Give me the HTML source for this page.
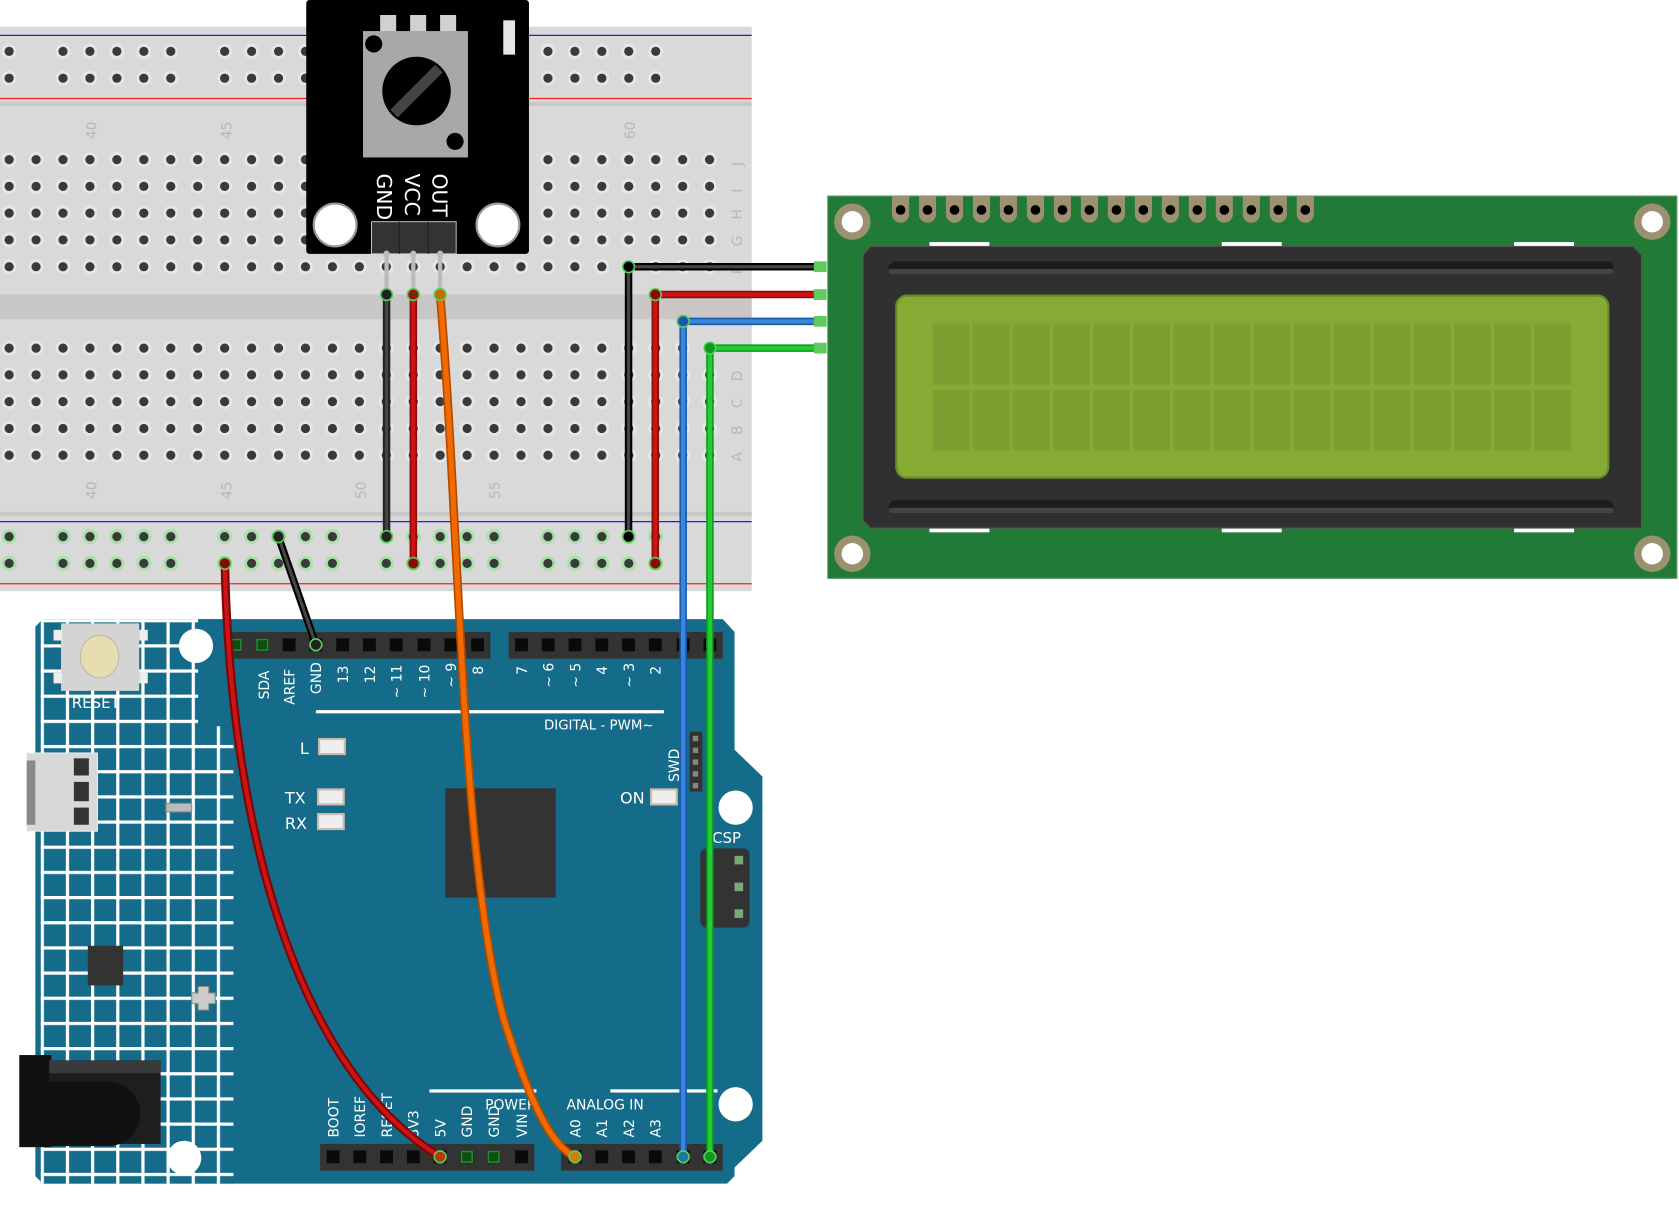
<!DOCTYPE html>
<html><head><meta charset="utf-8"><style>
html,body{margin:0;padding:0;background:#fff;overflow:hidden}
svg{display:block}
text{font-family:"DejaVu Sans","Liberation Sans",sans-serif}
</style></head><body>
<svg id="s" width="1679" height="1205" viewBox="0 0 1568 1125" preserveAspectRatio="none" xmlns="http://www.w3.org/2000/svg">
<defs>
<pattern id="grid" x="38" y="578" width="23.5" height="23.5" patternUnits="userSpaceOnUse">
<rect width="23.5" height="23.5" fill="#156b8a"/>
<rect x="0" y="0" width="3" height="23.5" fill="#fff"/>
<rect x="0" y="0" width="23.5" height="3" fill="#fff"/>
</pattern>
</defs>
<!-- breadboard -->
<rect x="0" y="25" width="702" height="527" fill="#d9d9d9"/>
<rect x="0" y="95" width="702" height="4" fill="#c8c8c8"/>
<rect x="0" y="275" width="702" height="23" fill="#c9c7c5"/>
<rect x="0" y="478" width="702" height="4" fill="#c8c8c8"/>
<line x1="0" y1="33" x2="702" y2="33" stroke="#1a1aff" stroke-width="1.2"/>
<line x1="0" y1="92" x2="702" y2="92" stroke="#ff2020" stroke-width="1.2"/>
<line x1="0" y1="487" x2="702" y2="487" stroke="#1a1aff" stroke-width="1.2"/>
<line x1="0" y1="545" x2="702" y2="545" stroke="#ff2020" stroke-width="1.2"/>
<g id="holes"></g>
<g fill="#b8b8b8" font-size="13">
<text transform="translate(90,130) rotate(-90)">40</text>
<text transform="translate(216,130) rotate(-90)">45</text>
<text transform="translate(593,130) rotate(-90)">60</text>
<text transform="translate(90,466) rotate(-90)">40</text>
<text transform="translate(216,466) rotate(-90)">45</text>
<text transform="translate(342,466) rotate(-90)">50</text>
<text transform="translate(467,466) rotate(-90)">55</text>
<text transform="translate(693,155) rotate(-90)">J</text>
<text transform="translate(693,180) rotate(-90)">I</text>
<text transform="translate(693,205) rotate(-90)">H</text>
<text transform="translate(693,230) rotate(-90)">G</text>
<text transform="translate(693,256) rotate(-90)">F</text>
<text transform="translate(693,356) rotate(-90)">D</text>
<text transform="translate(693,381) rotate(-90)">C</text>
<text transform="translate(693,406) rotate(-90)">B</text>
<text transform="translate(693,431) rotate(-90)">A</text>
</g>
<!-- potentiometer -->
<rect x="286" y="0" width="208" height="237" rx="3" fill="#000"/>
<rect x="355" y="14" width="15" height="16" fill="#d0d0d0"/>
<rect x="383" y="14" width="15" height="16" fill="#d0d0d0"/>
<rect x="411" y="14" width="15" height="16" fill="#d0d0d0"/>
<rect x="339" y="29" width="98" height="118" fill="#a8a8a8"/>
<circle cx="349" cy="41" r="8" fill="#000"/>
<circle cx="425" cy="132" r="8" fill="#000"/>
<circle cx="389" cy="85" r="32" fill="#000"/>
<line x1="368" y1="106" x2="410" y2="64" stroke="#444" stroke-width="10"/>
<rect x="470" y="19" width="11" height="32" fill="#e6e6e6"/>
<circle cx="313" cy="210" r="20" fill="#fff" stroke="#999" stroke-width="2"/>
<circle cx="465" cy="210" r="20" fill="#fff" stroke="#999" stroke-width="2"/>
<g fill="#fff" font-size="19">
<text transform="translate(352,162) rotate(90)">GND</text>
<text transform="translate(378,162) rotate(90)">VCC</text>
<text transform="translate(404,162) rotate(90)">OUT</text>
</g>
<rect x="347" y="207" width="79" height="30" fill="#333" stroke="#ddd" stroke-width="0.8"/>
<line x1="373" y1="207" x2="373" y2="237" stroke="#222"/>
<line x1="400" y1="207" x2="400" y2="237" stroke="#222"/>
<g stroke="#bbb" stroke-width="4">
<line x1="361" y1="237" x2="361" y2="275"/><line x1="386" y1="237" x2="386" y2="275"/><line x1="411" y1="237" x2="411" y2="275"/>
</g>
<g fill="#bbb"><circle cx="361" cy="237" r="3"/><circle cx="386" cy="237" r="3"/><circle cx="411" cy="237" r="3"/></g>
<!-- LCD -->
<rect x="773" y="183" width="793" height="357" fill="#217a35" stroke="#5a9a6a" stroke-width="1"/>
<g id="lcdpins"></g>
<g fill="#9b9070">
<circle cx="796" cy="207" r="17"/><circle cx="1543" cy="207" r="17"/><circle cx="796" cy="517" r="17"/><circle cx="1543" cy="517" r="17"/>
</g>
<g fill="#fff">
<circle cx="796" cy="207" r="10"/><circle cx="1543" cy="207" r="10"/><circle cx="796" cy="517" r="10"/><circle cx="1543" cy="517" r="10"/>
<rect x="868" y="226" width="56" height="5"/><rect x="1141" y="226" width="56" height="5"/><rect x="1414" y="226" width="56" height="5"/>
<rect x="868" y="492" width="56" height="5"/><rect x="1141" y="492" width="56" height="5"/><rect x="1414" y="492" width="56" height="5"/>
</g>
<polygon points="813,230 1525,230 1533,238 1533,493 1525,493 813,493 806,486 806,238" fill="#303030" stroke="#555" stroke-width="1"/>
<rect x="830" y="244" width="677" height="12" rx="6" fill="#1c1c1c"/>
<rect x="830" y="251" width="677" height="5" rx="2.5" fill="#444"/>
<rect x="830" y="467" width="677" height="12" rx="6" fill="#1c1c1c"/>
<rect x="830" y="474" width="677" height="5" rx="2.5" fill="#444"/>
<rect x="837" y="276" width="665" height="170" rx="10" fill="#86ab34" stroke="#6a8a2a" stroke-width="2"/>
<g id="cells" fill="#7b9f31"></g>
<!-- Arduino -->
<polygon points="40,578 675,578 686,590 686,700 712,725 712,1065 686,1090 686,1098 679,1105 40,1105 33,1098 33,585" fill="#156b8a"/>
<rect x="38" y="578" width="180" height="527" fill="url(#grid)"/>
<rect x="185" y="578" width="35" height="100" fill="#156b8a"/>
<rect x="57" y="582" width="73" height="63" fill="#d4d4d4"/>
<rect x="50" y="588" width="8" height="10" fill="#eee"/><rect x="130" y="588" width="8" height="10" fill="#eee"/>
<rect x="50" y="628" width="8" height="10" fill="#eee"/><rect x="130" y="628" width="8" height="10" fill="#eee"/>
<ellipse cx="93" cy="613" rx="18" ry="20" fill="#e8ddb0" stroke="#bba" stroke-width="1"/>
<text x="67" y="661" fill="#fff" font-size="14">RESET</text>
<rect x="25" y="703" width="66" height="73" fill="#d8d8d8" stroke="#eee"/>
<rect x="25" y="710" width="8" height="60" fill="#888"/>
<g fill="#333"><rect x="69" y="708" width="14" height="16"/><rect x="69" y="730" width="14" height="18"/><rect x="69" y="754" width="14" height="16"/></g>
<rect x="155" y="750" width="24" height="8" fill="#bbb" stroke="#888"/>
<rect x="82" y="883" width="33" height="37" fill="#333"/>
<path d="M185,921 h10 v6 h6 v10 h-6 v6 h-10 v-6 h-6 v-10 h6z" fill="#ccc" stroke="#888"/>
<rect x="18" y="985" width="30" height="86" fill="#111"/>
<rect x="46" y="990" width="104" height="78" fill="#1e1e1e"/>
<path d="M46,1010 h55 a30,30 0 0 1 0,60 h-55z" fill="#111"/>
<rect x="46" y="990" width="104" height="12" fill="#3a3a3a"/>
<g fill="#fff"><circle cx="183" cy="603" r="16"/><circle cx="687" cy="754" r="16"/><circle cx="687" cy="1031" r="16"/><circle cx="172" cy="1081" r="16"/></g>
<rect x="213" y="590" width="245" height="25" fill="#333"/>
<rect x="475" y="590" width="200" height="25" fill="#333"/>
<rect x="299" y="1068" width="200" height="25" fill="#333"/>
<rect x="524" y="1068" width="151" height="25" fill="#333"/>
<g id="pins"></g>
<g fill="#fff" font-size="13">
<text transform="translate(251,653) rotate(-90)">SDA</text>
<text transform="translate(275,658) rotate(-90)">AREF</text>
<text transform="translate(300,648) rotate(-90)">GND</text>
<text transform="translate(325,638) rotate(-90)">13</text>
<text transform="translate(350,638) rotate(-90)">12</text>
<text transform="translate(375,652) rotate(-90)">~ 11</text>
<text transform="translate(401,652) rotate(-90)">~ 10</text>
<text transform="translate(426,642) rotate(-90)">~ 9</text>
<text transform="translate(451,630) rotate(-90)">8</text>
<text transform="translate(492,630) rotate(-90)">7</text>
<text transform="translate(517,642) rotate(-90)">~ 6</text>
<text transform="translate(542,642) rotate(-90)">~ 5</text>
<text transform="translate(567,630) rotate(-90)">4</text>
<text transform="translate(592,642) rotate(-90)">~ 3</text>
<text transform="translate(617,630) rotate(-90)">2</text>
<text x="508" y="681" font-size="12.5">DIGITAL - PWM~</text>
<text x="280" y="704" font-size="15">L</text>
<text x="266" y="750" font-size="15">TX</text>
<text x="266" y="774" font-size="15">RX</text>
<text x="579" y="750" font-size="15">ON</text>
<text transform="translate(634,730) rotate(-90)" font-size="13">SWD</text>
<text x="665" y="787" font-size="14">CSP</text>
<text transform="translate(316,1062) rotate(-90)">BOOT</text>
<text transform="translate(341,1062) rotate(-90)">IOREF</text>
<text transform="translate(366,1062) rotate(-90)">RESET</text>
<text transform="translate(391,1062) rotate(-90)">3V3</text>
<text transform="translate(416,1062) rotate(-90)">5V</text>
<text transform="translate(441,1062) rotate(-90)">GND</text>
<text transform="translate(466,1062) rotate(-90)">GND</text>
<text transform="translate(492,1062) rotate(-90)">VIN</text>
<text transform="translate(542,1062) rotate(-90)">A0</text>
<text transform="translate(567,1062) rotate(-90)">A1</text>
<text transform="translate(592,1062) rotate(-90)">A2</text>
<text transform="translate(617,1062) rotate(-90)">A3</text>
<text x="453" y="1036">POWER</text>
<text x="529" y="1036">ANALOG IN</text>
</g>
<g fill="#fff"><rect x="295" y="663" width="325" height="3"/><rect x="401" y="1017" width="100" height="3"/><rect x="570" y="1017" width="100" height="3"/></g>
<rect x="298" y="690" width="24" height="14" fill="#eee" stroke="#cba" stroke-width="2"/>
<rect x="297" y="737" width="24" height="14" fill="#eee" stroke="#cba" stroke-width="2"/>
<rect x="297" y="760" width="24" height="14" fill="#eee" stroke="#cba" stroke-width="2"/>
<rect x="608" y="737" width="24" height="14" fill="#eee" stroke="#cba" stroke-width="2"/>
<rect x="416" y="736" width="103" height="102" fill="#333"/>
<rect x="644" y="683" width="12" height="56" fill="#333"/>
<g fill="#887"><rect x="647" y="687" width="5" height="5"/><rect x="647" y="698" width="5" height="5"/><rect x="647" y="709" width="5" height="5"/><rect x="647" y="720" width="5" height="5"/><rect x="647" y="731" width="5" height="5"/></g>
<rect x="654" y="792" width="46" height="74" rx="6" fill="#333"/>
<g fill="#7a7"><rect x="686" y="799" width="8" height="8"/><rect x="686" y="824" width="8" height="8"/><rect x="686" y="849" width="8" height="8"/></g>
<!-- wires -->
<g fill="none" stroke-linecap="round" stroke-linejoin="round">
<path d="M361,275 V501" stroke="#222" stroke-width="7"/><path d="M361,275 V501" stroke="#444" stroke-width="3"/>
<path d="M386,275 V526" stroke="#8a0a0a" stroke-width="7"/><path d="M386,275 V526" stroke="#cc1414" stroke-width="4"/>
<path d="M587,501 V249 H766" stroke="#000" stroke-width="7"/><path d="M587,501 V249 H766" stroke="#444" stroke-width="3"/>
<path d="M612,526 V275 H766" stroke="#8a0a0a" stroke-width="7"/><path d="M612,526 V275 H766" stroke="#cc1414" stroke-width="4"/>
<path d="M638,1080 V300 H766" stroke="#1a58b0" stroke-width="7"/><path d="M638,1080 V300 H766" stroke="#3a86d8" stroke-width="4"/>
<path d="M663,1080 V325 H766" stroke="#0e9a20" stroke-width="7"/><path d="M663,1080 V325 H766" stroke="#22cc33" stroke-width="4"/>
<path d="M260,501 L295,602" stroke="#000" stroke-width="7"/><path d="M260,501 L295,602" stroke="#444" stroke-width="3"/>
<path d="M210,526 C215,780 280,1000 411,1080" stroke="#7a0808" stroke-width="8"/><path d="M210,526 C215,780 280,1000 411,1080" stroke="#cc1414" stroke-width="4"/>
<path d="M411,275 C430,500 430,800 470,950 C495,1030 515,1070 537,1080" stroke="#b34a00" stroke-width="8"/><path d="M411,275 C430,500 430,800 470,950 C495,1030 515,1070 537,1080" stroke="#f06a00" stroke-width="5"/>
</g>
<g id="ends"></g>
</svg>
<script>
var NS="http://www.w3.org/2000/svg";
function el(p,t,a){var e=document.createElementNS(NS,t);for(var k in a)e.setAttribute(k,a[k]);p.appendChild(e);return e;}
var H=document.getElementById("holes");
function hole(x,y,g){ if(g)el(H,"circle",{cx:x,cy:y,r:7,fill:"#a8e0a8"}); else el(H,"circle",{cx:x,cy:y,r:7,fill:"#e6e6e6"}); el(H,"circle",{cx:x,cy:y,r:4.3,fill:"#3a3a3a"});}
function cx(c){return 84+(c-40)*25.16;}
var main=[149,174,199,224,249,325,350,375,400,425];
for(var c=37;c<=63;c++){for(var i=0;i<main.length;i++){hole(cx(c),main[i],false);}}
var railCols=[37,39,40,41,42,43,45,46,47,48,49,51,52,53,54,55,57,58,59,60,61];
for(var i=0;i<railCols.length;i++){var x=cx(railCols[i]);hole(x,48,false);hole(x,73,false);hole(x,501,true);hole(x,526,true);}
var L=document.getElementById("lcdpins");
for(var i=0;i<16;i++){var x=841+i*25.2;el(L,"path",{d:"M"+(x-8)+",183 V200 a8,8 0 0 0 16,0 V183z",fill:"#9b9070"});el(L,"circle",{cx:x,cy:196,r:4.5,fill:"#000"});}
var C=document.getElementById("cells");
for(var r=0;r<2;r++)for(var i=0;i<16;i++){el(C,"rect",{x:871+i*37.45,y:302+r*62,width:34.5,height:57});}
var P=document.getElementById("pins");
function pins(xs,y){for(var i=0;i<xs.length;i++){el(P,"rect",{x:xs[i]-6,y:y-6,width:12,height:12,fill:"#0a0a0a"});}}
pins([220,245,270,295,320,345,370,396,421,446],602);
pins([487,512,537,562,587,612,638,663],602);
pins([311,336,361,386,411,436,461,487],1080);
pins([537,562,587,612,638,663],1080);
[[220,602],[245,602],[436,1080],[461,1080]].forEach(function(p){el(P,"rect",{x:p[0]-5,y:p[1]-5,width:10,height:10,fill:"#0d4d12",stroke:"#2a8a2a","stroke-width":1.5});});
var E=document.getElementById("ends");
[[361,275,"#222"],[386,275,"#8a1a0a"],[411,275,"#c07000"],[361,501,"#222"],[386,526,"#8a0a0a"],[587,501,"#000"],[612,526,"#8a0a0a"],[587,249,"#000"],[612,275,"#8a0a0a"],[638,300,"#1a58b0"],[663,325,"#0e9a20"],[295,602,"#222"],[260,501,"#222"],[210,526,"#8a0a0a"],[411,1080,"#b33a0a"],[537,1080,"#d08000"],[638,1080,"#1a7aa0"],[663,1080,"#0e9a20"]].forEach(function(p){el(E,"circle",{cx:p[0],cy:p[1],r:5.5,fill:p[2],stroke:"#5ccc5c","stroke-width":1.5});});
[249,275,300,325].forEach(function(y){el(E,"rect",{x:760,y:y-5,width:12,height:10,fill:"#5ccc5c"});});
</script>
</body></html>
